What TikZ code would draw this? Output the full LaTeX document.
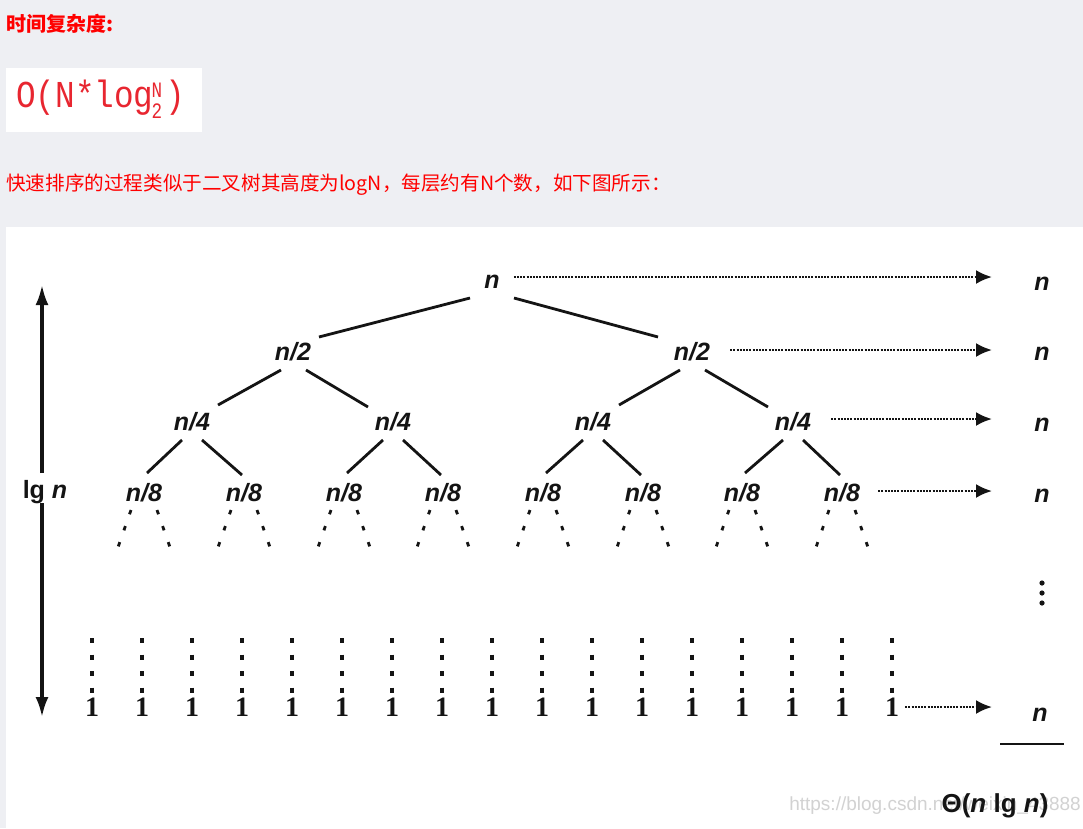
\documentclass[tikz,border=0pt]{standalone}
\usepackage{fontspec}
\setmainfont{Liberation Sans}
\newfontfamily\cjk{Noto Sans CJK SC}
\newfontfamily\monof{Liberation Mono}
\newfontfamily\serf{Liberation Serif}
\usetikzlibrary{arrows.meta,calc}
\definecolor{bg}{RGB}{238,239,243}
\definecolor{hred}{RGB}{255,0,0}
\definecolor{fred}{RGB}{232,38,48}
\definecolor{ink}{RGB}{20,20,20}
\definecolor{wm}{RGB}{210,210,210}
\begin{document}
\begin{tikzpicture}[x=1pt,y=-1pt,
  lab/.style={font=\fontsize{25}{25}\selectfont\bfseries\itshape, inner sep=0pt, text=ink},
  leaf/.style={font=\serf\fontsize{28}{28}\selectfont\bfseries, inner sep=0pt, text=ink},
  edge/.style={line width=2.8pt, ink},
  darr/.style={line width=2.4pt, ink, dash pattern=on 2pt off 1.2pt, -{Latex[length=16pt,width=14pt]}},
  varr/.style={line width=3.2pt, ink, -{Latex[length=20pt,width=13pt]}},
  brdots/.style={line width=2.8pt, ink, dash pattern=on 4.5pt off 12.5pt},
  vdots/.style={line width=3.4pt, ink, dash pattern=on 5pt off 11.5pt}]
\useasboundingbox (0,0) rectangle (1083,828);
\fill[bg] (0,0) rectangle (1083,828);
\fill[white] (6,227) rectangle (1083,828);
\fill[white] (6,68) rectangle (202,132);

% header texts
\node[anchor=west, inner sep=0pt, text=hred, font=\cjk\bfseries\fontsize{20}{20}\selectfont] (title) at (6,24) {时间复杂度:};
\node[anchor=west, inner sep=0pt, text=fred, font=\monof\fontsize{38}{38}\selectfont] (form) at (16,98) {\scalebox{0.86}[1]{O(N*log}};
\node[inner sep=0pt, text=fred, font=\monof\fontsize{22}{22}\selectfont] (fN) at (157,90) {\scalebox{0.8}[1]{N}};
\node[inner sep=0pt, text=fred, font=\monof\fontsize{22}{22}\selectfont] (f2) at (157,111) {\scalebox{0.8}[1]{2}};
\node[inner sep=0pt, text=fred, font=\monof\fontsize{38}{38}\selectfont] (fp) at (175,98) {\scalebox{0.86}[1]{)}};
\node[anchor=west, inner sep=0pt, text=hred, font=\cjk\fontsize{19.6}{19.6}\selectfont] (desc) at (6,185) {快速排序的过程类似于二叉树其高度为logN，每层约有N个数，如下图所示：};

% tree nodes
\node[lab] (r) at (492,282) {n};
\node[lab] (a1) at (293,352) {n/2};
\node[lab] (a2) at (692,352) {n/2};
\foreach \i/\x in {1/192,2/393,3/593,4/793}
  \node[lab] (b\i) at (\x,422) {n/4};
\foreach \i/\x in {1/144,2/244,3/344,4/443,5/543,6/643,7/742,8/842}
  \node[lab] (c\i) at (\x,493) {n/8};

% edges
\draw[edge] ($(r)+(-22,16)$) -- ($(a1)+(26,-15)$);
\draw[edge] ($(r)+(22,16)$) -- ($(a2)+(-34,-15)$);
\foreach \p/\l/\rr in {a1/b1/b2, a2/b3/b4} {
  \draw[edge] ($(\p)+(-12,18)$) -- ($(\l)+(26,-17)$);
  \draw[edge] ($(\p)+(13,18)$) -- ($(\rr)+(-25,-15)$);
}
\foreach \p/\l/\rr in {b1/c1/c2, b2/c3/c4, b3/c5/c6, b4/c7/c8} {
  \draw[edge] ($(\p)+(-10,18)$) -- ($(\l)+(3,-20)$);
  \draw[edge] ($(\p)+(10,18)$) -- ($(\rr)+(-2,-18)$);
}
% dotted branches under n/8
\foreach \i in {1,...,8} {
  \draw[brdots] ($(c\i)+(-13,17)$) -- ($(c\i)+(-28,60)$);
  \draw[brdots] ($(c\i)+(13,17)$) -- ($(c\i)+(28,60)$);
}

% leaves
\foreach \k in {0,...,16} {
  \node[leaf] (l\k) at (92+50*\k,707) {1};
  \coordinate (lt\k) at (92+50*\k,638);
  \draw[vdots] (lt\k) -- (l\k.north);
}

% right column
\node[lab] (s0) at (1042,284) {n};
\node[lab] (s1) at (1042,354) {n};
\node[lab] (s2) at (1042,425) {n};
\node[lab] (s3) at (1042,496) {n};
\node[lab] (s5) at (1040,715) {n};
\foreach \y in {583,593,603} \fill[ink] (1042,\y) circle (2.6pt);
\draw[line width=2.2pt, ink] (1000,744) -- (1064,744);

% watermark (behind the total)
\node[anchor=east, inner sep=0pt, text=wm, font=\fontsize{19}{19}\selectfont] (wmk) at (1081,806) {https://blog.csdn.net/weixin\_43888};
\node[inner sep=0pt, text=ink, font=\fontsize{26}{26}\selectfont\bfseries] (theta) at (995,806) {Θ(\textit{n} lg \textit{n})};

% dotted arrows
\coordinate (t0) at (992,277);
\coordinate (t1) at (992,350);
\coordinate (t2) at (992,419);
\coordinate (t3) at (992,491);
\coordinate (t5) at (992,707);
\draw[darr] ($(r.east)+(14,-5)$) -- (t0);
\draw[darr] ($(a2.east)+(20,-2)$) -- (t1);
\draw[darr] ($(b4.east)+(20,-3)$) -- (t2);
\draw[darr] ($(c8.east)+(18,-2)$) -- (t3);
\draw[darr] ($(l16.east)+(6,0)$) -- (t5);

% left arrow
\node[inner sep=0pt, text=ink, font=\fontsize{25}{25}\selectfont\bfseries] (lg) at (45,492) {lg \textit{n}};
\coordinate (lgtop) at (42,473);
\coordinate (lgbot) at (42,503);
\coordinate (la0) at (42,285);
\coordinate (la1) at (42,717);
\draw[varr] (lgtop) -- (la0);
\draw[varr] (lgbot) -- (la1);
\end{tikzpicture}
\end{document}
